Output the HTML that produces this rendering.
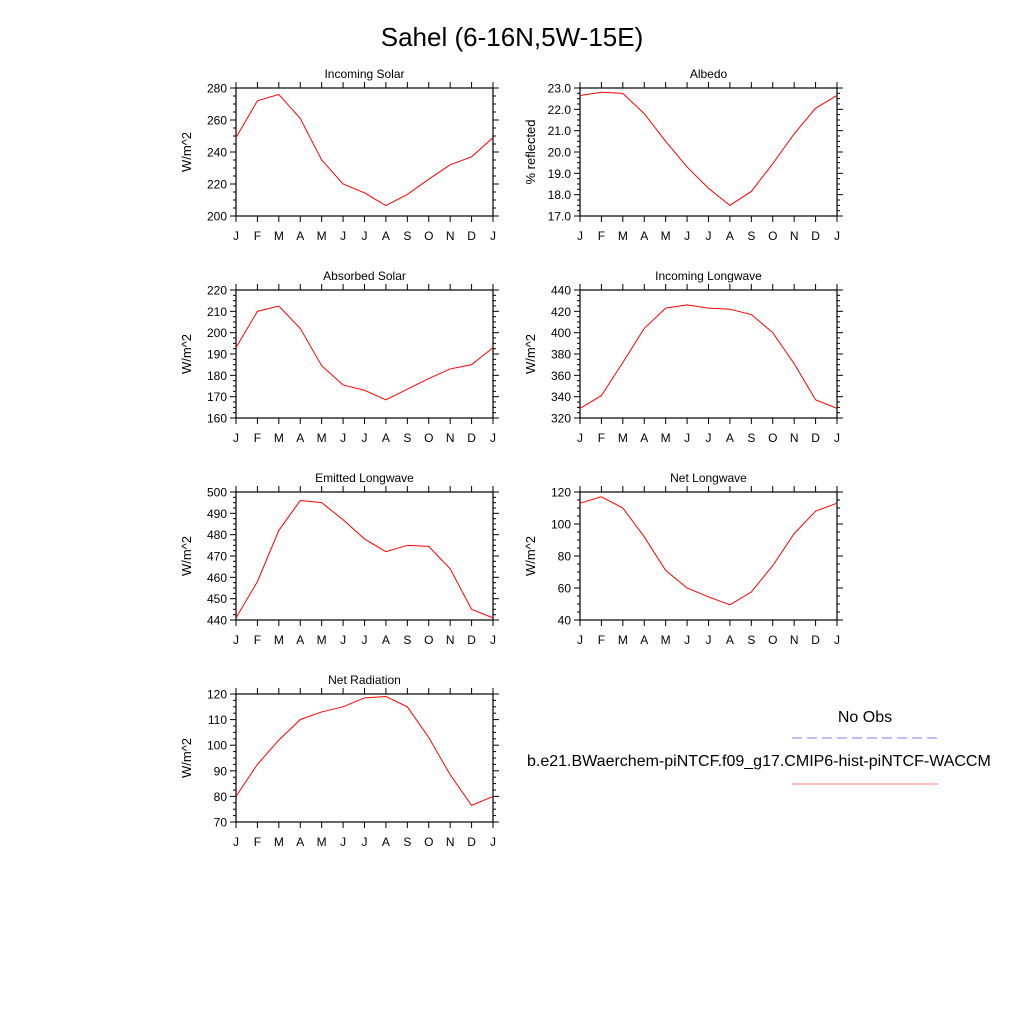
<!DOCTYPE html>
<html><head><meta charset="utf-8"><style>
body{margin:0;background:#fff;width:1024px;height:1024px;overflow:hidden}
svg{display:block;font-family:"Liberation Sans",sans-serif}
</style></head><body>
<svg id="s" width="1024" height="1024" viewBox="0 0 1024 1024">
<text x="512" y="46" font-size="26" text-anchor="middle">Sahel (6-16N,5W-15E)</text>
<text x="865" y="722" font-size="16" text-anchor="middle">No Obs</text>
<line x1="792" y1="738" x2="938" y2="738" stroke="#7b7bff" stroke-width="1" stroke-dasharray="10,5"/>
<text x="527" y="766" font-size="16">b.e21.BWaerchem-piNTCF.f09_g17.CMIP6-hist-piNTCF-WACCM</text>
<line x1="792" y1="784" x2="938" y2="784" stroke="#ff7b7b" stroke-width="1"/>
</svg>
<script>
const months=["J","F","M","A","M","J","J","A","S","O","N","D","J"];
const incomingSolar=[249,272,276,261,235,220,214.5,206.5,213.5,223,232,237,249];
const albedo=[22.65,22.8,22.75,21.8,20.5,19.3,18.3,17.5,18.15,19.45,20.85,22.05,22.65];
const absorbedSolar=[193,210,212.5,202,184.5,175.5,173,168.5,173.5,178.5,183,185,193];
const incomingLW=[329,341,372,404,423,426,423,422,417,400,371,337,329];
const emittedLW=[441,458,482,496,495,487,478,472,475,474.5,464,445,441];
const netLW=[113,117,110,92,71,60,54.5,49.5,57.5,74,94,108,113];
const netRad=[80,92.5,102,110,113,115,118.5,119,115,103,88.5,76.5,80];
const panels=[
 {t:"Incoming Solar",u:"W/m^2",d:incomingSolar,min:200,max:280,step:20,minor:5,dec:0,x:236,y:88,n:"incoming-solar"},
 {t:"Albedo",u:"% reflected",d:albedo,min:17,max:23,step:1,minor:0.25,dec:1,x:580,y:88,n:"albedo"},
 {t:"Absorbed Solar",u:"W/m^2",d:absorbedSolar,min:160,max:220,step:10,minor:2.5,dec:0,x:236,y:290,n:"absorbed-solar"},
 {t:"Incoming Longwave",u:"W/m^2",d:incomingLW,min:320,max:440,step:20,minor:5,dec:0,x:580,y:290,n:"incoming-longwave"},
 {t:"Emitted Longwave",u:"W/m^2",d:emittedLW,min:440,max:500,step:10,minor:2.5,dec:0,x:236,y:492,n:"emitted-longwave"},
 {t:"Net Longwave",u:"W/m^2",d:netLW,min:40,max:120,step:20,minor:5,dec:0,x:580,y:492,n:"net-longwave"},
 {t:"Net Radiation",u:"W/m^2",d:netRad,min:70,max:120,step:10,minor:2.5,dec:0,x:236,y:694,n:"net-radiation"}
];
const W=257,H=128,NS="http://www.w3.org/2000/svg",svg=document.getElementById('s');
function mk(tag,at,parent,txt){const e=document.createElementNS(NS,tag);for(const k in at)e.setAttribute(k,at[k]);if(txt!=null)e.textContent=txt;parent.appendChild(e);return e;}
panels.forEach(p=>{
 const g=mk('g',{},svg);
 
 
 const sx=i=>p.x+i*W/12, sy=v=>p.y+H-(v-p.min)/(p.max-p.min)*H;
 const fr=mk('rect',{x:p.x,y:p.y,width:W,height:H,fill:'none',stroke:'#000','stroke-width':1.2},g);
 
 
 const tt=mk('text',{x:p.x+W/2,y:p.y-10,'font-size':12,'text-anchor':'middle'},g,p.t);
 
 
 const yl=mk('text',{x:0,y:0,'font-size':13,'text-anchor':'middle',transform:`translate(${p.x-45},${p.y+H/2}) rotate(-90)`},g,p.u);
 
 
 months.forEach((m,i)=>{
  const x=sx(i);
  mk('line',{x1:x,y1:p.y+H,x2:x,y2:p.y+H+6,stroke:'#000'},g);
  mk('line',{x1:x,y1:p.y,x2:x,y2:p.y-6,stroke:'#000'},g);
  const l=mk('text',{x:x,y:p.y+H+24,'font-size':12,'text-anchor':'middle'},g,m);
  
  
 });
 for(let v=p.min;v<=p.max+1e-9;v+=p.minor){
  const y=sy(v),maj=Math.abs((v-p.min)/p.step-Math.round((v-p.min)/p.step))<1e-6,len=maj?6:3;
  mk('line',{x1:p.x-len,y1:y,x2:p.x,y2:y,stroke:'#000'},g);
  mk('line',{x1:p.x+W,y1:y,x2:p.x+W+len,y2:y,stroke:'#000'},g);
  if(maj){const l=mk('text',{x:p.x-9,y:y+4.5,'font-size':12,'text-anchor':'end'},g,v.toFixed(p.dec));
   
   }
 }
 const ln=mk('polyline',{points:p.d.map((v,i)=>sx(i)+','+sy(v)).join(' '),fill:'none',stroke:'#ff0000','stroke-width':1},g);
 
 
});
</script>
</body></html>
